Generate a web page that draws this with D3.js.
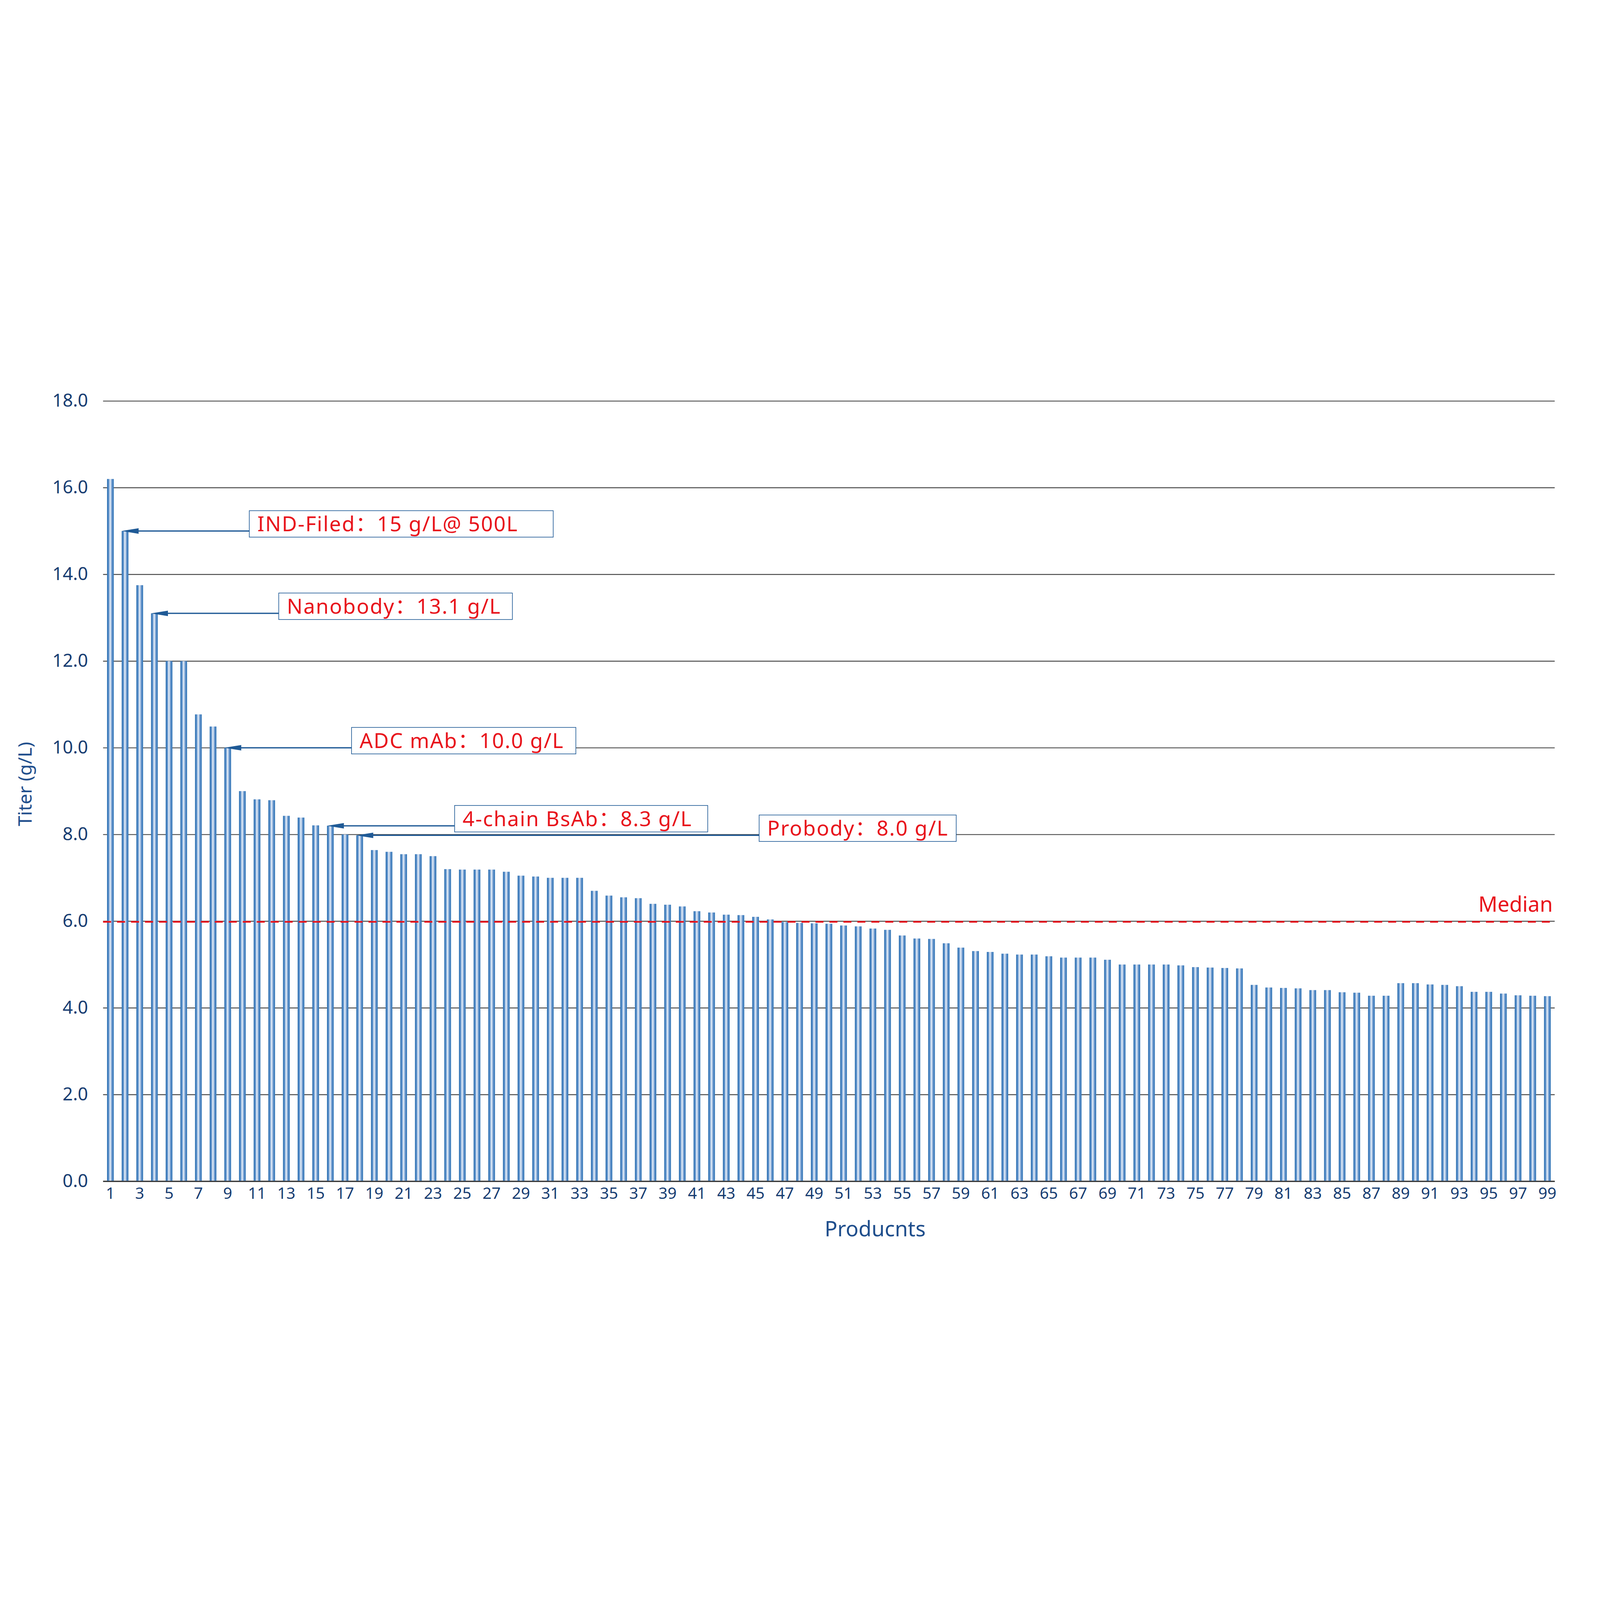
<!DOCTYPE html>
<html>
<head>
<meta charset="utf-8">
<script src="https://cdn.jsdelivr.net/npm/d3@7"></script>
<style>
  html, body { margin: 0; padding: 0; background: #fff; overflow: hidden; }
  #container { width: 100vw; height: 100vh; }
  svg { display: block; }
</style>
</head>
<body>
<div id="container"></div>
<script>
// chart data
const products = d3.range(1, 100);
const titers = [
  16.2, 15.0, 13.75, 13.1, 12.0, 12.0, 10.77, 10.49, 10.0, 9.0,
  8.81, 8.79, 8.43, 8.39, 8.21, 8.2, 8.0, 7.98, 7.64, 7.6,
  7.545, 7.545, 7.5, 7.2, 7.19, 7.19, 7.19, 7.14, 7.05, 7.03,
  7.0, 7.0, 7.0, 6.7, 6.59, 6.55, 6.53, 6.4, 6.38, 6.34,
  6.23, 6.2, 6.15, 6.14, 6.1, 6.04, 5.98, 5.96, 5.95, 5.94,
  5.9, 5.88, 5.83, 5.8, 5.67, 5.6, 5.59, 5.49, 5.39, 5.31,
  5.29, 5.25, 5.23, 5.23, 5.19, 5.16, 5.16, 5.16, 5.11, 5.0,
  5.0, 5.0, 5.0, 4.98, 4.94, 4.93, 4.92, 4.91, 4.53, 4.47,
  4.46, 4.45, 4.41, 4.41, 4.36, 4.35, 4.28, 4.28, 4.57, 4.57,
  4.54, 4.53, 4.5, 4.37, 4.37, 4.33, 4.29, 4.28, 4.27
];
const xTicks = products.filter(d => d % 2 === 1);
const yTicks = [0, 2, 4, 6, 8, 10, 12, 14, 16, 18];
const median = 6.0;

const calloutLabels = ["IND-Filed：15 g/L@ 500L", "Nanobody：13.1 g/L", "ADC mAb：10.0 g/L", "4-chain BsAb：8.3 g/L", "Probody：8.0 g/L"];
const calloutProducts = [2, 4, 9, 16, 18];

// layout
const width = 7560;
const height = 4253;
const plotLeft = 487;
const plotRight = 7346;
const plotTop = 241;
const plotBottom = 3928;
const boxLeft = [1178, 1317, 1661, 2148, 3587]; // callout box positions
const boxWidth = [1436, 1104, 1060, 1196, 931];

const navy = "#173d72";
const red = "#e8141c";
const boxBlue = "#1f5a96";
const font = "'Noto Sans', 'Noto Sans CJK SC', sans-serif";

const data = products.map((p, i) => ({ product: p, titer: titers[i] }));

const svg = d3.select("#container")
  .append("svg")
  .attr("viewBox", `0 0 ${width} ${height}`)
  .attr("width", "100%")
  .attr("height", "100%")
  .style("font-family", font);

// cylinder look for the bars
const grad = svg.append("defs").append("linearGradient")
  .attr("id", "barGrad")
  .attr("x1", 0).attr("x2", 1).attr("y1", 0).attr("y2", 0);
[["0%", "#2b6fb0"], ["25%", "#5a8fca"], ["47%", "#eef3fa"], ["55%", "#c5d6ec"], ["75%", "#5f90c9"], ["100%", "#2e74b5"]]
  .forEach(([o, c]) => grad.append("stop").attr("offset", o).attr("stop-color", c));

const x = d3.scaleBand()
  .domain(products)
  .range([plotLeft, plotRight])
  .paddingInner(0.54)
  .paddingOuter(0.27);

const y = d3.scaleLinear()
  .domain([0, 18])
  .range([plotBottom, plotTop]);

// y axis with gridlines
const yAxis = svg.append("g")
  .attr("transform", `translate(${plotLeft},0)`)
  .call(d3.axisLeft(y)
    .tickValues(yTicks)
    .tickFormat(d3.format(".1f"))
    .tickSize(-(plotRight - plotLeft))
    .tickPadding(71));
yAxis.select(".domain").remove();
yAxis.selectAll(".tick line")
  .attr("stroke", "#3a3a3a")
  .attr("stroke-width", d => d === 0 ? 6 : 4);
yAxis.selectAll(".tick text")
  .attr("fill", navy)
  .style("font-size", "85px")
  .style("font-family", font);

// bars
svg.append("g")
  .selectAll("rect")
  .data(data)
  .join("rect")
  .attr("x", d => x(d.product))
  .attr("y", d => y(d.titer))
  .attr("width", x.bandwidth())
  .attr("height", d => y(0) - y(d.titer))
  .attr("fill", "url(#barGrad)");

// x axis
const xAxis = svg.append("g")
  .attr("transform", `translate(0,${plotBottom})`)
  .call(d3.axisBottom(x)
    .tickValues(xTicks)
    .tickSize(0)
    .tickPadding(29));
xAxis.select(".domain")
  .attr("stroke", "#3a3a3a")
  .attr("stroke-width", 6);
xAxis.selectAll(".tick text")
  .attr("fill", navy)
  .style("font-size", "75px")
  .style("font-family", font);

// median line
svg.append("line")
  .attr("x1", plotLeft)
  .attr("x2", plotRight)
  .attr("y1", y(median) + 3)
  .attr("y2", y(median) + 3)
  .attr("stroke", red)
  .attr("stroke-width", 8)
  .attr("stroke-dasharray", "38,28");

svg.append("text")
  .attr("x", plotRight - 9)
  .attr("y", y(median) - 45)
  .attr("text-anchor", "end")
  .attr("fill", red)
  .style("font-size", "100px")
  .text("Median");

// callouts
const callouts = calloutLabels.map((label, i) => ({
  label,
  product: calloutProducts[i],
  value: titers[calloutProducts[i] - 1],
  left: boxLeft[i],
  w: boxWidth[i]
}));

const co = svg.append("g")
  .selectAll("g")
  .data(callouts)
  .join("g");

co.append("line")
  .attr("x1", d => x(d.product) + 40)
  .attr("x2", d => d.left)
  .attr("y1", d => y(d.value))
  .attr("y2", d => y(d.value))
  .attr("stroke", boxBlue)
  .attr("stroke-width", 6);

co.append("path")
  .attr("d", d => {
    const tx = x(d.product), ty = y(d.value);
    return `M${tx},${ty}L${tx + 80},${ty - 13}L${tx + 80},${ty + 13}Z`;
  })
  .attr("fill", boxBlue);

co.append("rect")
  .attr("x", d => d.left)
  .attr("y", d => y(d.value) - 96)
  .attr("width", d => d.w)
  .attr("height", 125)
  .attr("fill", "#fff")
  .attr("stroke", boxBlue)
  .attr("stroke-width", 3);

co.append("text")
  .attr("x", d => d.left + 38)
  .attr("y", d => y(d.value) + 1)
  .attr("fill", red)
  .style("font-size", "98px")
  .style("letter-spacing", "4px")
  .text(d => d.label);

// axis titles
svg.append("text")
  .attr("x", 4135)
  .attr("y", 4189)
  .attr("text-anchor", "middle")
  .attr("fill", "#1f4e8c")
  .style("font-size", "100px")
  .text("Producnts");

svg.append("text")
  .attr("transform", "translate(150,2051) rotate(-90)")
  .attr("text-anchor", "middle")
  .attr("fill", "#1f4e8c")
  .style("font-size", "88px")
  .text("Titer (g/L)");
</script>
</body>
</html>
